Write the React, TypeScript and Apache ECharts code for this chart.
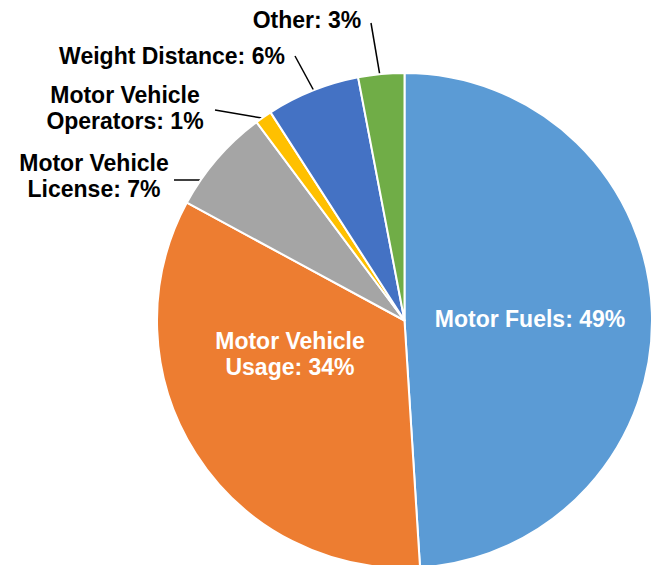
import React, { useEffect, useRef } from "react";
import * as echarts from "echarts";

const categories = [
  "Motor Fuels",
  "Motor Vehicle\nUsage",
  "Motor Vehicle\nLicense",
  "Motor Vehicle\nOperators",
  "Weight Distance",
  "Other",
];
const values = [49.0, 33.9, 6.9, 1.1, 6.1, 3.0];
const colors = ["#5B9BD5", "#ED7D31", "#A5A5A5", "#FFC000", "#4472C4", "#70AD47"];
const insideLabel = [true, true, false, false, false, false];

// label placement (centre of text block) and leader lines
const labelPos: [number, number][] = [
  [530, 319],
  [290, 354],
  [94, 176],
  [125, 108],
  [172, 56],
  [307, 20],
];
const leaderLines: ([number, number][] | null)[] = [
  null,
  null,
  [[174, 180], [202, 180]],
  [[215, 110], [262, 118]],
  [[295, 56], [314, 91]],
  [[371, 23], [380, 76]],
];

export default function App() {
  const ref = useRef<HTMLDivElement>(null);
  useEffect(() => {
    if (!ref.current) return;
    const chart = echarts.init(ref.current, undefined, { renderer: "svg" });
    const data = categories.map((name, i) => ({
      name,
      value: values[i],
      itemStyle: { color: colors[i] },
      label: insideLabel[i]
        ? { position: "inside", color: "#FFFFFF" }
        : { position: "outside", color: "#000000" },
      labelLine: { show: !insideLabel[i] },
    }));
    chart.setOption({
      animation: false,
      backgroundColor: "#FFFFFF",
      series: [
        {
          type: "pie",
          center: [404.5, 320.5],
          radius: 247.5,
          startAngle: 90,
          clockwise: true,
          percentPrecision: 0,
          itemStyle: { borderColor: "#FFFFFF", borderWidth: 2 },
          label: {
            show: true,
            formatter: "{b}: {d}%",
            fontFamily: "Liberation Sans",
            fontWeight: "bold",
            fontSize: 23,
            lineHeight: 26,
            align: "center",
            overflow: "none",
            edgeDistance: 0,
            bleedMargin: 0,
          },
          labelLine: {
            show: true,
            lineStyle: { color: "#000000", width: 1.5 },
          },
          labelLayout: (params: any) => {
            const i = params.dataIndex;
            const out: any = {
              x: labelPos[i][0],
              y: labelPos[i][1],
              align: "center",
              verticalAlign: "middle",
            };
            if (leaderLines[i]) out.labelLinePoints = leaderLines[i];
            return out;
          },
          data,
        },
      ],
    });
    return () => chart.dispose();
  }, []);
  return (
    <div
      ref={ref}
      style={{ position: "absolute", left: 0, top: 0, width: 662, height: 565 }}
    />
  );
}
